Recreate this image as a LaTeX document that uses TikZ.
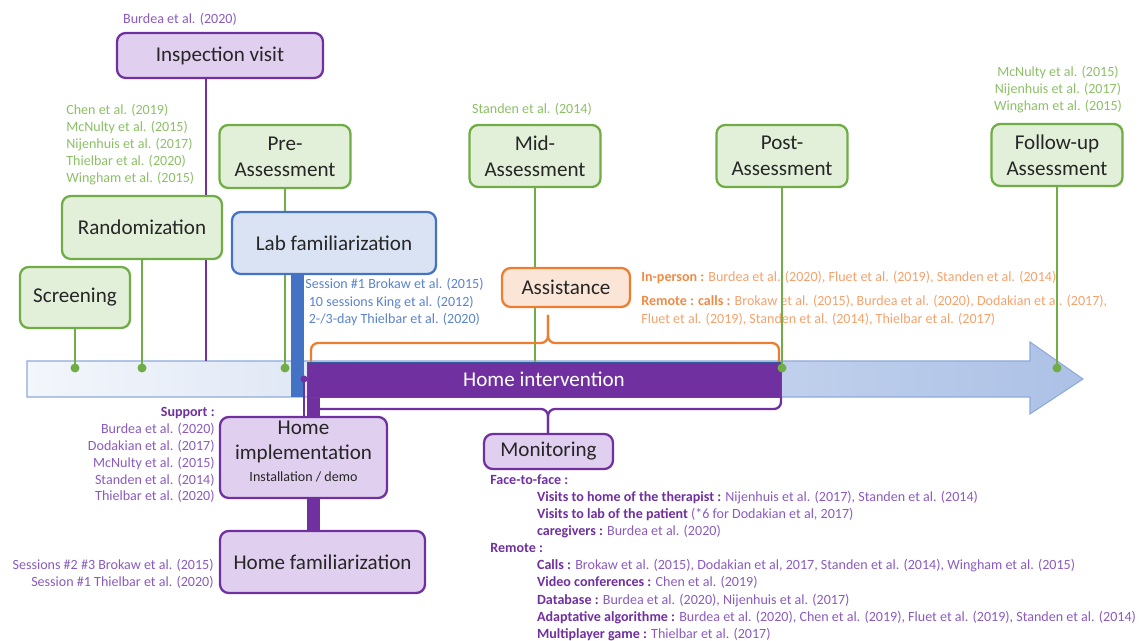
\documentclass[tikz,border=0pt]{standalone}
\usepackage{fontspec}
\setmainfont{Carlito}
\usetikzlibrary{calc}
\definecolor{grnline}{HTML}{70AD47}
\definecolor{grnfill}{HTML}{E2F0D9}
\definecolor{grntext}{HTML}{8CBF66}
\definecolor{purline}{HTML}{7030A0}
\definecolor{purfill}{HTML}{E1CFF0}
\definecolor{purtext}{HTML}{8A5BBE}
\definecolor{bluline}{HTML}{4472C4}
\definecolor{blufill}{HTML}{DAE3F3}
\definecolor{blutext}{HTML}{5B83CC}
\definecolor{orgline}{HTML}{ED7D31}
\definecolor{orgfill}{HTML}{FBE5D6}
\definecolor{orgtext}{HTML}{F4A26C}
\definecolor{orgbold}{HTML}{F08A45}
\definecolor{tlleft}{HTML}{F3F6FB}
\definecolor{tlright}{HTML}{ACC1E6}
\definecolor{tlborder}{HTML}{8EA9DB}
\def\px{0.02cm}
\def\bp#1{{\bfseries\color{purline}#1}}
\def\bo#1{{\bfseries\color{orgbold}#1}}
\def\tdot(#1)[#2]{\fill[#2] (#1) circle (4.5);}

\begin{document}
\begin{tikzpicture}[x=0.02cm, y=-0.02cm,
	box/.style={draw, rounded corners=5pt, line width=1.3pt, text=black!85, align=center,
		font=\fontsize{12}{14.6}\selectfont, inner sep=0pt},
	grnbox/.style={box, draw=grnline, fill=grnfill},
	purbox/.style={box, draw=purline, fill=purfill},
	cite/.style={inner sep=0pt, font=\fontsize{8}{9.6}\selectfont},
	grnln/.style={grnline, line width=1.3pt},
	purln/.style={purline, line width=1.3pt}]
			%%%%% START %%%%%
			\useasboundingbox (0,0) rectangle (1143,641);
			
			% time line
			\draw[left color=tlleft, right color=tlright, draw=tlborder, line width=0.6pt]
				(27,361) -- (1030,361) -- (1030,342) -- (1083,379) -- (1030,414) -- (1030,397) -- (27,397) -- cycle;
			
			% references
			\node[cite, text=purtext] (inspcite) at (180,19) {Burdea et al. (2020)};
			\node[cite, text=grntext, align=left, anchor=north west] (randcite) at (66,104)
				{Chen et al. (2019)\\McNulty et al. (2015)\\Nijenhuis et al. (2017)\\Thielbar et al. (2020)\\Wingham et al. (2015)};
			\node[cite, text=grntext] (midcite) at (532,109) {Standen et al. (2014)};
			\node[cite, text=grntext, align=center, anchor=north] (followcite) at (1058,66)
				{McNulty et al. (2015)\\Nijenhuis et al. (2017)\\Wingham et al. (2015)};
			\node[cite, text=blutext, align=left, anchor=north west, font=\fontsize{8}{9.9}\selectfont] (labcite) at (305,278)
				{Session \#1 Brokaw et al. (2015)\\\hspace*{2pt}10 sessions King et al. (2012)\\\hspace*{2pt}2-/3-day Thielbar et al. (2020)};
			\node[cite, text=orgtext, anchor=north west] (assistcite) at (641,271)
				{\bo{In-person :} Burdea et al. (2020), Fluet et al. (2019), Standen et al. (2014)};
			\node[cite, text=orgtext, align=left, anchor=north west, font=\fontsize{8}{10.2}\selectfont] (remotecite) at (641,295)
				{\bo{Remote : calls :} Brokaw et al. (2015), Burdea et al. (2020), Dodakian et al. (2017),\\Fluet et al. (2019), Standen et al. (2014), Thielbar et al. (2017)};
			\node[cite, text=purtext, align=right, anchor=north east] (implcite) at (215,407)
				{\bp{Support :}\\Burdea et al. (2020)\\Dodakian et al. (2017)\\McNulty et al. (2015)\\Standen et al. (2014)\\Thielbar et al. (2020)};
			\node[cite, text=purtext, align=right, anchor=north east] (famcite) at (214,559)
				{Sessions \#2 \#3 Brokaw et al. (2015)\\Session \#1 Thielbar et al. (2020)};
			\node[cite, text=purtext, align=left, anchor=north west, font=\fontsize{8}{9.75}\selectfont] (moncite) at (490,474)
				{\bp{Face-to-face :}\\
				\hspace*{26.6pt}\bp{Visits to home of the therapist :} Nijenhuis et al. (2017), Standen et al. (2014)\\
				\hspace*{26.6pt}\bp{Visits to lab of the patient} (*6 for Dodakian et al, 2017)\\
				\hspace*{26.6pt}\bp{caregivers :} Burdea et al. (2020)\\
				\bp{Remote :}\\
				\hspace*{26.6pt}\bp{Calls :} Brokaw et al. (2015), Dodakian et al, 2017, Standen et al. (2014), Wingham et al. (2015)\\
				\hspace*{26.6pt}\bp{Video conferences :} Chen et al. (2019)\\
				\hspace*{26.6pt}\bp{Database :} Burdea et al. (2020), Nijenhuis et al. (2017)\\
				\hspace*{26.6pt}\bp{Adaptative algorithme :} Burdea et al. (2020), Chen et al. (2019), Fluet et al. (2019), Standen et al. (2014)\\
				\hspace*{26.6pt}\bp{Multiplayer game :} Thielbar et al. (2017)};
			
			\coordinate (dscreen) at (75,368);
			\coordinate (drand) at (142,368);
			\coordinate (dinsp) at (206,361);
			\coordinate (dpre) at (285,368);
			\coordinate (dmid) at (535,362);
			\coordinate (dpost) at (782,368);
			\coordinate (dfollow) at (1057,368);
			\coordinate (dhome) at (304,379);
			
			% stages above the line
			\node[purbox, minimum width=206*\px, minimum height=45*\px] (insp) at (220,55.5) {Inspection visit};
			\draw[purln] (dinsp |- insp.south) -- (dinsp);
			
			\node[grnbox, minimum width=110*\px, minimum height=61*\px] (screen) at (75,297.5) {Screening};
			\node[grnbox, minimum width=160*\px, minimum height=63*\px] (rand) at (142,227.5) {Randomization};
			\node[grnbox, minimum width=131*\px, minimum height=63*\px] (pre) at (285,156.5) {Pre-\\Assessment};
			\node[grnbox, minimum width=131*\px, minimum height=62*\px] (mid) at (535,156) {Mid-\\Assessment};
			\node[grnbox, minimum width=131*\px, minimum height=62*\px] (post) at (782,156) {Post-\\Assessment};
			\node[grnbox, minimum width=131*\px, minimum height=62*\px] (follow) at (1057,155) {Follow-up\\Assessment};
			
			\draw[grnln] (screen.south) -- (dscreen);
			\draw[grnln] (rand.south) -- (drand);
			\draw[grnln] (pre.south) -- (dpre);
			\draw[grnln] (mid.south) -- (dmid);
			
			% lab familiarization
			\fill[bluline] (291,270) rectangle (304,397);
			\node[box, draw=bluline, fill=blufill, minimum width=204*\px, minimum height=62*\px] (lab) at (334,243) {Lab familiarization};
			
			% home intervention
			\draw[purline, line width=0.26cm] (313.5,390) -- (313.5,535);
			\draw[purline, line width=0.9pt] (dhome) -- (304,420);
			\node[fill=purline, draw=bluline!80!black, line width=0.4pt, text=white, font=\fontsize{12}{14.6}\selectfont,
				minimum width=474*\px, minimum height=35*\px, inner sep=0pt] (homeint) at (544,379.5) {Home intervention};
			
			\node[box, draw=orgline, fill=orgfill, minimum width=128*\px, minimum height=39*\px] (assist) at (566,287.5) {Assistance};
			\draw[orgline, line width=1.3pt, rounded corners=4pt] (311,362) -- (311,343) -- (548,343) -- (548,315);
			\draw[orgline, line width=1.3pt, rounded corners=4pt] (779,362) -- (779,343) -- (548,343) -- (548,315);
			
			\draw[purln, rounded corners=4pt] (313,398) -- (313,409) -- (548,409) -- (548,434);
			\draw[purln, rounded corners=4pt] (781,397) -- (781,409) -- (548,409) -- (548,434);
			
			\draw[grnln] (post.south) -- (dpost);
			\draw[grnln] (follow.south) -- (dfollow);
			
			% stages below the line
			\node[purbox, minimum width=167*\px, minimum height=81*\px] (impl) at (303.5,457.5) {};
			\node[inner sep=0pt, align=center, text=black!85, font=\fontsize{12}{14.2}\selectfont, anchor=north] (impllbl) at (303.5,421)
				{Home\\implementation\\[-2pt]{\fontsize{8}{9}\selectfont Installation / demo}};
			\node[purbox, minimum width=205*\px, minimum height=62*\px] (homefam) at (322.5,562) {Home familiarization};
			\node[purbox, minimum width=129*\px, minimum height=35*\px] (monit) at (548.5,451.5) {Monitoring};
			
			% dots
			\tdot(dscreen)[grnline]
			\tdot(drand)[grnline]
			\tdot(dpre)[grnline]
			\tdot(dpost)[grnline]
			\tdot(dfollow)[grnline]
			\fill[purline] (dhome) circle (3.5);
			
			%%%%% END %%%%%
\end{tikzpicture}
\end{document}
